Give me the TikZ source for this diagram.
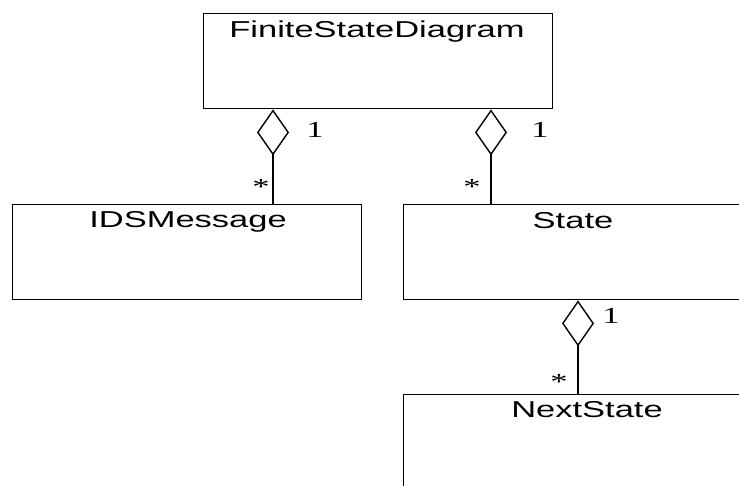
\documentclass[tikz,border=0pt]{standalone}
\usepackage{fontspec}
\usepackage{graphicx}
\setmainfont{Liberation Serif}
\newfontfamily\arialf{Liberation Sans}
\usetikzlibrary{arrows.meta}
\tikzset{
  umlbox/.style={draw, line width=1.4pt, rectangle, anchor=north west, inner sep=0pt},
  ctitle/.style={anchor=base, inner sep=0pt, font=\arialf\fontsize{23}{23}\selectfont},
  mult/.style={anchor=base, inner sep=0pt, font=\fontsize{23}{23}\selectfont},
  agg/.style={line width=1.4pt, {Diamond[open, length=46pt, width=32pt, line width=1.4pt]}-},
}
\newcommand{\wide}[1]{\scalebox{1.5}[1]{#1}}
\begin{document}
\begin{tikzpicture}[x=1pt,y=-1pt]
\useasboundingbox (0,0) rectangle (739,485);
\clip (0,0) rectangle (739,485);
% class boxes
\node[umlbox, minimum width=349pt, minimum height=95pt] (fsd) at (203,13) {};
\node[umlbox, minimum width=349pt, minimum height=95pt] (ids) at (12,204) {};
\node[umlbox, minimum width=342pt, minimum height=95pt] (state) at (403,204) {};
\node[umlbox, minimum width=370pt, minimum height=120pt] (next) at (403,394) {};
% class names
\node[ctitle] (fsdT) at (377,37) {\wide{FiniteStateDiagram}};
\node[ctitle] (idsT) at (188,227) {\wide{IDSMessage}};
\node[ctitle] (stateT) at (573,228) {\wide{State}};
\node[ctitle] (nextT) at (587,417) {\wide{NextState}};
% aggregations
\draw[agg] ([xshift=70pt]fsd.south west) -- ([xshift=261pt]ids.north west);
\draw[agg] ([xshift=288pt]fsd.south west) -- ([xshift=88pt]state.north west);
\draw[agg] ([xshift=175pt]state.south west) -- ([xshift=175pt]next.north west);
% multiplicities
\node[mult] (m1a) at (315,137) {\wide{1}};
\node[mult] (m1b) at (261,194) {\wide{*}};
\node[mult] (m2a) at (540,137) {\wide{1}};
\node[mult] (m2b) at (472,194) {\wide{*}};
\node[mult] (m3a) at (611,323) {\wide{1}};
\node[mult] (m3b) at (559,389) {\wide{*}};
\end{tikzpicture}
\end{document}
